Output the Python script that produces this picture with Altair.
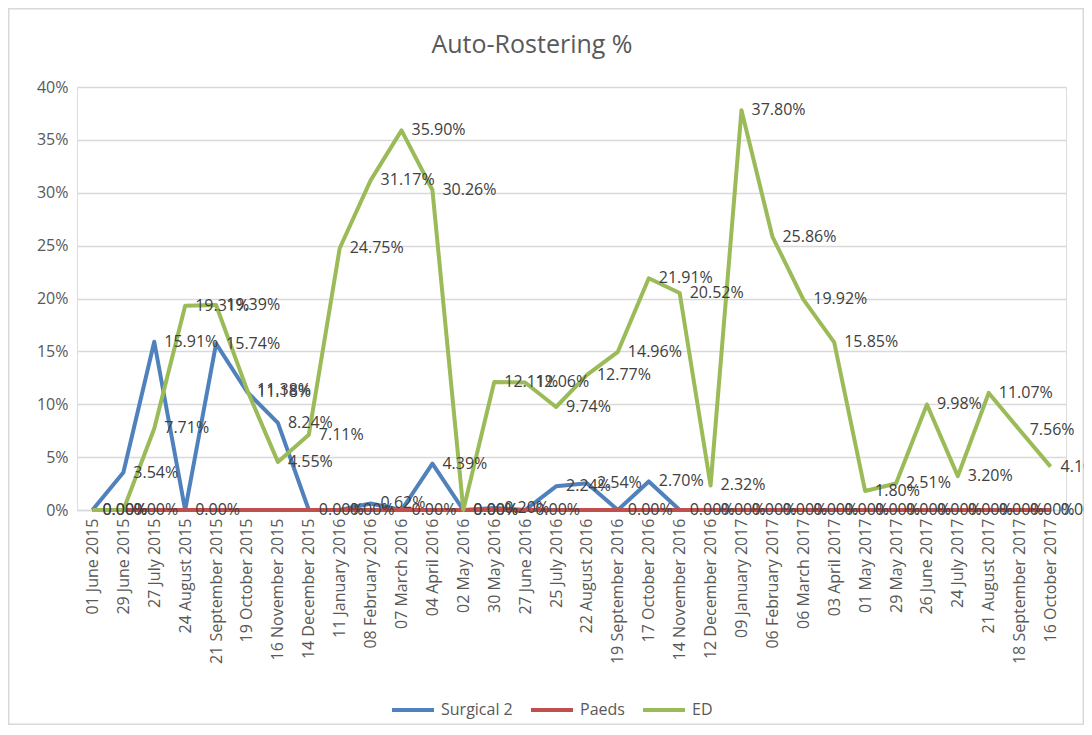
import altair as alt
import pandas as pd

dates = [
    "01 June 2015", "29 June 2015", "27 July 2015", "24 August 2015",
    "21 September 2015", "19 October 2015", "16 November 2015", "14 December 2015",
    "11 January 2016", "08 February 2016", "07 March 2016", "04 April 2016",
    "02 May 2016", "30 May 2016", "27 June 2016", "25 July 2016",
    "22 August 2016", "19 September 2016", "17 October 2016", "14 November 2016",
    "12 December 2016", "09 January 2017", "06 February 2017", "06 March 2017",
    "03 April 2017", "01 May 2017", "29 May 2017", "26 June 2017",
    "24 July 2017", "21 August 2017", "18 September 2017", "16 October 2017",
]

surgical2 = [0.00, 3.54, 15.91, 0.00, 15.74, 11.18, 8.24, 0.00,
             0.00, 0.62, 0.00, 4.39, 0.00, 0.20, 0.00, 2.24,
             2.54, 0.00, 2.70, 0.00, 0.00, 0.00, 0.00, 0.00,
             0.00, 0.00, 0.00, 0.00, 0.00, 0.00, 0.00, 0.00]

paeds = [0.00, 0.00, 0.00, 0.00, 0.00, 0.00, 0.00, 0.00,
         0.00, 0.00, 0.00, 0.00, 0.00, 0.00, 0.00, 0.00,
         0.00, 0.00, 0.00, 0.00, 0.00, 0.00, 0.00, 0.00,
         0.00, 0.00, 0.00, 0.00, 0.00, 0.00, 0.00, 0.00]

ed = [0.00, 0.00, 7.71, 19.31, 19.39, 11.38, 4.55, 7.11,
      24.75, 31.17, 35.90, 30.26, 0.00, 12.11, 12.06, 9.74,
      12.77, 14.96, 21.91, 20.52, 2.32, 37.80, 25.86, 19.92,
      15.85, 1.80, 2.51, 9.98, 3.20, 11.07, 7.56, 4.10]

title_text = "Auto-Rostering %"
series_names = ["Surgical 2", "Paeds", "ED"]
series_colors = ["#4F81BD", "#C0504D", "#9BBB59"]
y_ticks = [0, 0.05, 0.10, 0.15, 0.20, 0.25, 0.30, 0.35, 0.40]

rows = []
for name, vals in zip(series_names, [surgical2, paeds, ed]):
    for d, v in zip(dates, vals):
        rows.append({"date": d, "series": name, "value": v / 100.0})
df = pd.DataFrame(rows)

FONT = "Open Sans"
W, H = 989, 423
PAD = {"left": 69, "top": 79, "right": 18, "bottom": 215}

color = alt.Color(
    "series:N",
    scale=alt.Scale(domain=series_names, range=series_colors),
    legend=alt.Legend(
        title=None, orient="none", direction="horizontal",
        legendX=313, legendY=600,
        symbolType="stroke", symbolSize=1764, symbolStrokeWidth=4,
        labelFont=FONT, labelFontSize=16, labelColor="#595959",
        labelOffset=5, columnPadding=10,
    ),
)

base = alt.Chart(df).encode(
    x=alt.X(
        "date:N", sort=dates,
        scale=alt.Scale(type="point", padding=0.5),
        axis=alt.Axis(
            title=None, labelAngle=-90, ticks=False, labelOverlap=False,
            domainColor="#d9d9d9", domainWidth=1.5,
            labelFont=FONT, labelFontSize=16, labelColor="#595959", labelPadding=8,
        ),
    ),
    y=alt.Y(
        "value:Q",
        scale=alt.Scale(domain=[0, 0.4], nice=False),
        axis=alt.Axis(
            title=None, values=y_ticks, format=".0%", domain=False, ticks=False,
            grid=True, gridColor="#d9d9d9", gridWidth=1.5,
            labelFont=FONT, labelFontSize=16, labelColor="#595959", labelPadding=9,
        ),
    ),
)

lines = [
    base.mark_line(strokeWidth=4, strokeJoin="round")
    .encode(color=color)
    .transform_filter(alt.datum.series == name)
    for name in series_names
]

labels = (
    base.mark_text(align="left", baseline="middle", dx=10, font=FONT,
                   fontSize=16, color="#404040")
    .encode(text=alt.Text("value:Q", format=".2%"))
    .transform_filter(alt.datum.series != "Paeds")
)

frame = alt.Chart(pd.DataFrame({"k": [0]})).mark_rect(
    fill="white", fillOpacity=0, stroke="#d9d9d9", strokeWidth=1.5
).encode(
    x=alt.value(-PAD["left"] + 0.75),
    x2=alt.value(W + PAD["right"] - 0.75),
    y=alt.value(-PAD["top"] + 0.75),
    y2=alt.value(H + PAD["bottom"] - 0.75),
)

title = alt.Chart(pd.DataFrame({"t": [title_text]})).mark_text(
    font=FONT, fontSize=25, color="#595959", align="center", baseline="middle"
).encode(
    text="t:N",
    x=alt.value(455),
    y=alt.value(-42),
)

chart = alt.layer(frame, *lines, labels, title).properties(
    width=W, height=H,
    autosize=alt.AutoSizeParams(type="none"),
    padding=PAD,
).configure_view(stroke=None).configure(background="white")

chart.save("out.html", embed_options={"renderer": "svg", "actions": False})
